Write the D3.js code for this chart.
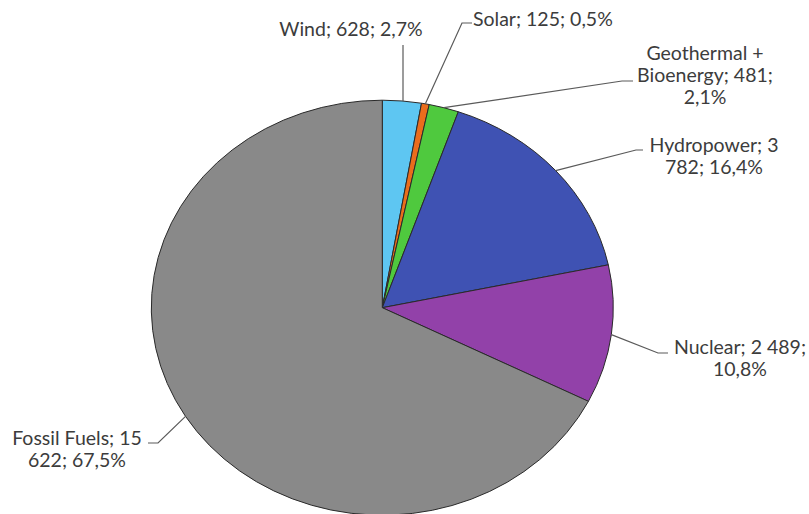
<!DOCTYPE html>
<html>
<head>
<meta charset="utf-8">
<script src="https://cdn.jsdelivr.net/npm/d3@7"></script>
<style>
  html, body { margin: 0; padding: 0; background: #ffffff; }
  svg { display: block; }
  .lbl { font-family: Lato, "Open Sans", sans-serif; font-size: 19.5px; fill: #3c3c3c; }
</style>
</head>
<body>
<svg id="chart" width="809" height="514"></svg>
<script>
// Electricity generation by source
const sources = ["Wind", "Solar", "Geothermal + Bioenergy", "Hydropower", "Nuclear", "Fossil Fuels"];
const generation = [628, 125, 481, 3782, 2489, 15622];
const colors = ["#5ec6f2", "#ea6d1c", "#4fc93e", "#3f52b3", "#9241a9", "#898989"];

// How many words go on each line of a wrapped label
const lineWords = [[4], [4], [2, 2, 1], [2, 2], [3, 1], [3, 2]];

// Label placement: anchor point of the text block and leader elbow
const labelLayout = [
  { x: 351, y: 36, anchor: "middle", elbow: null, end: [403, 45] },
  { x: 473, y: 26, anchor: "start", elbow: [462, 23], end: [472, 23] },
  { x: 705, y: 60, anchor: "middle", elbow: [622, 81], end: [633, 81] },
  { x: 714, y: 152, anchor: "middle", elbow: [636, 150], end: [643, 150] },
  { x: 740, y: 354, anchor: "middle", elbow: [658, 353], end: [668, 353] },
  { x: 77, y: 445, anchor: "middle", elbow: [158, 443], end: [148, 443] }
];

const W = 809, H = 514;
const cx = 382.3, cy = 307.7, rx = 231, ry = 207.5;
const lineGap = 22;

const svg = d3.select("#chart");
const total = d3.sum(generation);

const locale = d3.formatLocale({ decimal: ",", thousands: " ", grouping: [3], currency: ["", ""] });
const fmtVal = locale.format(",d");
const fmtPct = locale.format(".1f");

const data = sources.map((s, i) => ({ name: s, value: generation[i], color: colors[i], i }));

const pie = d3.pie().sort(null).value(d => d.value).startAngle(0).endAngle(2 * Math.PI);
const arcs = pie(data);
const arc = d3.arc().innerRadius(0).outerRadius(ry);

// Pie drawn as a circle and stretched horizontally into an ellipse
const g = svg.append("g").attr("transform", `translate(${cx},${cy}) scale(${rx / ry},1)`);
g.selectAll("path.slice")
  .data(arcs)
  .join("path")
  .attr("class", "slice")
  .attr("d", arc)
  .attr("fill", d => d.data.color)
  .attr("stroke", "#2a2a2a")
  .attr("stroke-width", 1)
  .attr("stroke-linejoin", "round")
  .attr("vector-effect", "non-scaling-stroke");

// Point on the ellipse edge at the middle of a slice
function edgePoint(a) {
  const m = (a.startAngle + a.endAngle) / 2;
  return [cx + rx * Math.sin(m), cy - ry * Math.cos(m)];
}

// Leader lines
const leaders = svg.append("g");
arcs.forEach((a, i) => {
  const L = labelLayout[i];
  const p0 = edgePoint(a);
  const pts = L.elbow ? [p0, L.elbow, L.end] : [[L.end[0], p0[1]], L.end];
  leaders.append("path")
    .attr("d", d3.line()(pts))
    .attr("fill", "none")
    .attr("stroke", "#5a5a5a")
    .attr("stroke-width", 1.2);
});

// Data labels: "name; value; percent"
const labels = svg.append("g");
arcs.forEach((a, i) => {
  const d = a.data;
  const pct = fmtPct(d.value / total * 100) + "%";
  const full = `${d.name}; ${fmtVal(d.value)}; ${pct}`;
  const words = full.split(" ");
  const lines = [];
  let k = 0;
  lineWords[i].forEach(n => { lines.push(words.slice(k, k + n).join(" ")); k += n; });
  if (k < words.length) lines[lines.length - 1] += " " + words.slice(k).join(" ");
  const L = labelLayout[i];
  const t = labels.append("text")
    .attr("class", "lbl")
    .attr("text-anchor", L.anchor)
    .attr("x", L.x)
    .attr("y", L.y);
  lines.forEach((ln, j) => {
    t.append("tspan").attr("x", L.x).attr("y", L.y + j * lineGap).text(ln);
  });
});
</script>
</body>
</html>
